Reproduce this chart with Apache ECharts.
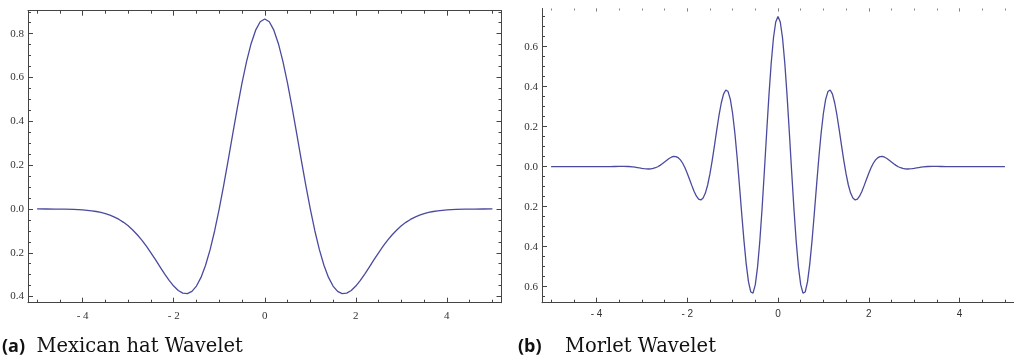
<!DOCTYPE html>
<html>
  <head>
    <meta charset="utf-8" />
    <title>Wavelets</title>
    <script src="https://cdn.jsdelivr.net/npm/echarts@6/dist/echarts.min.js"></script>
    <style>
      * { margin: 0; padding: 0; }
      body { background: #fff; }
      #main { width: 1014px; height: 361px; }
    </style>
  </head>
  <body>
    <div id="main"></div>
    <script>
      // (a) Mexican hat
      const hatX = [-5, -4.8, -4.6, -4.4, -4.2, -4, -3.9, -3.8, -3.7, -3.6, -3.5, -3.4, -3.3, -3.2, -3.1,
        -3, -2.9, -2.8, -2.7, -2.6, -2.5, -2.4, -2.3, -2.2, -2.1, -2, -1.9, -1.8, -1.7, -1.6, -1.5, -1.4,
        -1.3, -1.2, -1.1, -1, -0.9, -0.8, -0.7, -0.6, -0.5, -0.4, -0.3, -0.2, -0.1, 0,
        0.1, 0.2, 0.3, 0.4, 0.5, 0.6, 0.7, 0.8, 0.9, 1, 1.1, 1.2, 1.3, 1.4, 1.5, 1.6, 1.7, 1.8, 1.9, 2,
        2.1, 2.2, 2.3, 2.4, 2.5, 2.6, 2.7, 2.8, 2.9, 3, 3.1, 3.2, 3.3, 3.4, 3.5, 3.6, 3.7, 3.8, 3.9, 4,
        4.2, 4.4, 4.6, 4.8, 5];
      const hatY = [-0.0001, -0.0002, -0.0004, -0.0010, -0.0021, -0.0044, -0.0061, -0.0085, -0.0117,
        -0.0159, -0.0213, -0.0283, -0.0370, -0.0479, -0.0611, -0.0771, -0.0959, -0.1177, -0.1425,
        -0.1701, -0.2001, -0.2317, -0.2642, -0.2961, -0.3261, -0.3521, -0.3723, -0.3845, -0.3864,
        -0.3762, -0.3520, -0.3125, -0.2571, -0.1858, -0.0995, 0, 0.1099, 0.2267, 0.3462, 0.4636,
        0.5740, 0.6725, 0.7545, 0.8161, 0.8544, 0.8673,
        0.8544, 0.8161, 0.7545, 0.6725, 0.5740, 0.4636, 0.3462, 0.2267, 0.1099, 0, -0.0995, -0.1858,
        -0.2571, -0.3125, -0.3520, -0.3762, -0.3864, -0.3845, -0.3723, -0.3521, -0.3261, -0.2961,
        -0.2642, -0.2317, -0.2001, -0.1701, -0.1425, -0.1177, -0.0959, -0.0771, -0.0611, -0.0479,
        -0.0370, -0.0283, -0.0213, -0.0159, -0.0117, -0.0085, -0.0061, -0.0044, -0.0021, -0.0010,
        -0.0004, -0.0002, -0.0001];

      // (b) Morlet, values
      const morletX = [-5, -4.5, -4, -3.8, -3.7, -3.6, -3.5, -3.4, -3.3, -3.2, -3.15, -3.1, -3.05,
        -3, -2.95, -2.9, -2.85, -2.8, -2.75, -2.7, -2.65, -2.6, -2.55, -2.5, -2.45, -2.4, -2.35, -2.3,
        -2.25, -2.2, -2.15, -2.1, -2.05, -2, -1.95, -1.9, -1.85, -1.8, -1.75, -1.7, -1.65, -1.6, -1.55,
        -1.5, -1.45, -1.4, -1.35, -1.3, -1.25, -1.2, -1.15, -1.1, -1.05, -1, -0.95, -0.9, -0.85, -0.8,
        -0.75, -0.7, -0.65, -0.6, -0.55, -0.5, -0.45, -0.4, -0.35, -0.3, -0.25, -0.2, -0.15, -0.1, -0.05,
        0,
        0.05, 0.1, 0.15, 0.2, 0.25, 0.3, 0.35, 0.4, 0.45, 0.5, 0.55, 0.6, 0.65, 0.7, 0.75, 0.8, 0.85,
        0.9, 0.95, 1, 1.05, 1.1, 1.15, 1.2, 1.25, 1.3, 1.35, 1.4, 1.45, 1.5, 1.55, 1.6, 1.65, 1.7, 1.75,
        1.8, 1.85, 1.9, 1.95, 2, 2.05, 2.1, 2.15, 2.2, 2.25, 2.3, 2.35, 2.4, 2.45, 2.5, 2.55, 2.6, 2.65,
        2.7, 2.75, 2.8, 2.85, 2.9, 2.95, 3, 3.05, 3.1, 3.15, 3.2, 3.3, 3.4, 3.5, 3.6, 3.7, 3.8, 4, 4.5, 5];
      const morletY = [0, 0, 0, 0.0001, 0.0005, 0.0011, 0.0016, 0.0018, 0.0011,
        -0.0009, -0.0024, -0.0041, -0.0061,
        -0.0080, -0.0097, -0.0109, -0.0114, -0.0107, -0.0088, -0.0052, -0.0001, 0.0067, 0.0147,
        0.0236, 0.0327, 0.0410, 0.0475, 0.0511, 0.0506, 0.0452, 0.0342, 0.0173, -0.0052,
        -0.0323, -0.0625, -0.0934, -0.1224, -0.1462, -0.1618, -0.1661, -0.1567, -0.1319, -0.0915,
        -0.0364, 0.0306, 0.1055, 0.1828, 0.2561, 0.3185, 0.3630, 0.3836, 0.3756, 0.3365,
        0.2660, 0.1671, 0.0450, -0.0920, -0.2341, -0.3697, -0.4873, -0.5759, -0.6263, -0.6319,
        -0.5899, -0.5011, -0.3704, -0.2066, -0.0215, 0.1708, 0.3553, 0.5172, 0.6435, 0.7236,
        0.7511,
        0.7236, 0.6435, 0.5172, 0.3553, 0.1708, -0.0215, -0.2066, -0.3704, -0.5011, -0.5899,
        -0.6319, -0.6263, -0.5759, -0.4873, -0.3697, -0.2341, -0.0920, 0.0450, 0.1671, 0.2660,
        0.3365, 0.3756, 0.3836, 0.3630, 0.3185, 0.2561, 0.1828, 0.1055, 0.0306, -0.0364,
        -0.0915, -0.1319, -0.1567, -0.1661, -0.1618, -0.1462, -0.1224, -0.0934, -0.0625, -0.0323,
        -0.0052, 0.0173, 0.0342, 0.0452, 0.0506, 0.0511, 0.0475, 0.0410, 0.0327, 0.0236,
        0.0147, 0.0067, -0.0001, -0.0052, -0.0088, -0.0107, -0.0114, -0.0109, -0.0097, -0.0080,
        -0.0061, -0.0041, -0.0024, -0.0009, 0.0011, 0.0018, 0.0016, 0.0011, 0.0005, 0.0001, 0, 0, 0];

      // tick positions
      const xMajor = [-4, -2, 0, 2, 4];
      const xMinor = [-5, -4.5, -4, -3.5, -3, -2.5, -2, -1.5, -1, -0.5, 0, 0.5, 1, 1.5, 2, 2.5, 3, 3.5, 4, 4.5, 5];
      const hatYMajor = [-0.4, -0.2, 0, 0.2, 0.4, 0.6, 0.8];
      const hatYMinor = [-0.4, -0.35, -0.3, -0.25, -0.2, -0.15, -0.1, -0.05, 0, 0.05, 0.1, 0.15, 0.2, 0.25,
        0.3, 0.35, 0.4, 0.45, 0.5, 0.55, 0.6, 0.65, 0.7, 0.75, 0.8, 0.85, 0.9];
      const morletYMajor = [-0.6, -0.4, -0.2, 0, 0.2, 0.4, 0.6];
      const morletYMinor = [-0.65, -0.6, -0.55, -0.5, -0.45, -0.4, -0.35, -0.3, -0.25, -0.2, -0.15, -0.1,
        -0.05, 0, 0.05, 0.1, 0.15, 0.2, 0.25, 0.3, 0.35, 0.4, 0.45, 0.5, 0.55, 0.6, 0.65, 0.7, 0.75];

      const frame = '#444';
      const curve = '#4a4a9e';
      const xFmt = v => (v < 0 ? '- ' + (-v) : '' + v);
      const yFmt = v => Math.abs(v).toFixed(1);

      function axis(grid, pos, min, max, ticks, len, opts) {
        opts = opts || {};
        return {
          type: 'value', gridIndex: grid, position: pos, min: min, max: max,
          axisLine: { show: !!opts.line, onZero: false, lineStyle: { color: frame, width: 1 } },
          axisTick: { show: true, inside: true, length: len, customValues: ticks,
            lineStyle: { color: opts.tickColor || frame, width: 1 } },
          axisLabel: opts.label ? Object.assign({ customValues: ticks, color: '#333' }, opts.label) : { show: false },
          splitLine: { show: false }
        };
      }

      const serif = 'Liberation Serif';
      const sans = 'Liberation Sans';

      let myChart = echarts.init(document.getElementById('main'));
      let option = {
        animation: false,
        grid: [
          { left: 28, top: 10.7, width: 473.5, height: 292 },
          { left: 542, top: 8.5, width: 480, height: 294.2 }
        ],
        xAxis: [
          axis(0, 'bottom', -5.2, 5.2, xMajor, 5, { line: true,
            label: { formatter: xFmt, margin: 8, fontFamily: serif, fontSize: 11 } }),
          axis(0, 'bottom', -5.2, 5.2, xMinor, 3),
          axis(0, 'top', -5.2, 5.2, xMajor, 5, { line: true }),
          axis(0, 'top', -5.2, 5.2, xMinor, 3),
          axis(1, 'bottom', -5.2, 5.2, xMajor, 5, { line: true,
            label: { formatter: xFmt, margin: 7, fontFamily: sans, fontSize: 10 } }),
          axis(1, 'bottom', -5.2, 5.2, xMinor, 3),
          axis(1, 'top', -5.2, 5.2, xMajor, 3, { tickColor: '#777' }),
          axis(1, 'top', -5.2, 5.2, xMinor, 2, { tickColor: '#888' })
        ],
        yAxis: [
          axis(0, 'left', -0.428, 0.905, hatYMajor, 5, { line: true,
            label: { formatter: yFmt, margin: 4, fontFamily: serif, fontSize: 11 } }),
          axis(0, 'left', -0.428, 0.905, hatYMinor, 3),
          axis(0, 'right', -0.428, 0.905, hatYMajor, 5, { line: true }),
          axis(0, 'right', -0.428, 0.905, hatYMinor, 3),
          axis(1, 'left', -0.68, 0.791, morletYMajor, 5, { line: true,
            label: { formatter: yFmt, margin: 4, fontFamily: serif, fontSize: 11 } }),
          axis(1, 'left', -0.68, 0.791, morletYMinor, 3)
        ],
        series: [
          { type: 'line', xAxisIndex: 0, yAxisIndex: 0, showSymbol: false,
            lineStyle: { color: curve, width: 1.3 }, data: hatX.map((x, i) => [x, hatY[i]]) },
          { type: 'line', xAxisIndex: 4, yAxisIndex: 4, showSymbol: false,
            lineStyle: { color: curve, width: 1.3 }, data: morletX.map((x, i) => [x, morletY[i]]) }
        ],
        graphic: [
          { type: 'text', x: 2, y: 347, style: { text: '(a)', font: 'bold 18px "Open Sans"', fill: '#111', textVerticalAlign: 'middle' } },
          { type: 'text', x: 36.5, y: 347, style: { text: 'Mexican hat Wavelet', font: '19.5px "DejaVu Serif"', fill: '#111', textVerticalAlign: 'middle' } },
          { type: 'text', x: 518, y: 347, style: { text: '(b)', font: 'bold 18px "Open Sans"', fill: '#111', textVerticalAlign: 'middle' } },
          { type: 'text', x: 565, y: 347, style: { text: 'Morlet Wavelet', font: '19.5px "DejaVu Serif"', fill: '#111', textVerticalAlign: 'middle' } }
        ]
      };
      myChart.setOption(option);
    </script>
  </body>
</html>
